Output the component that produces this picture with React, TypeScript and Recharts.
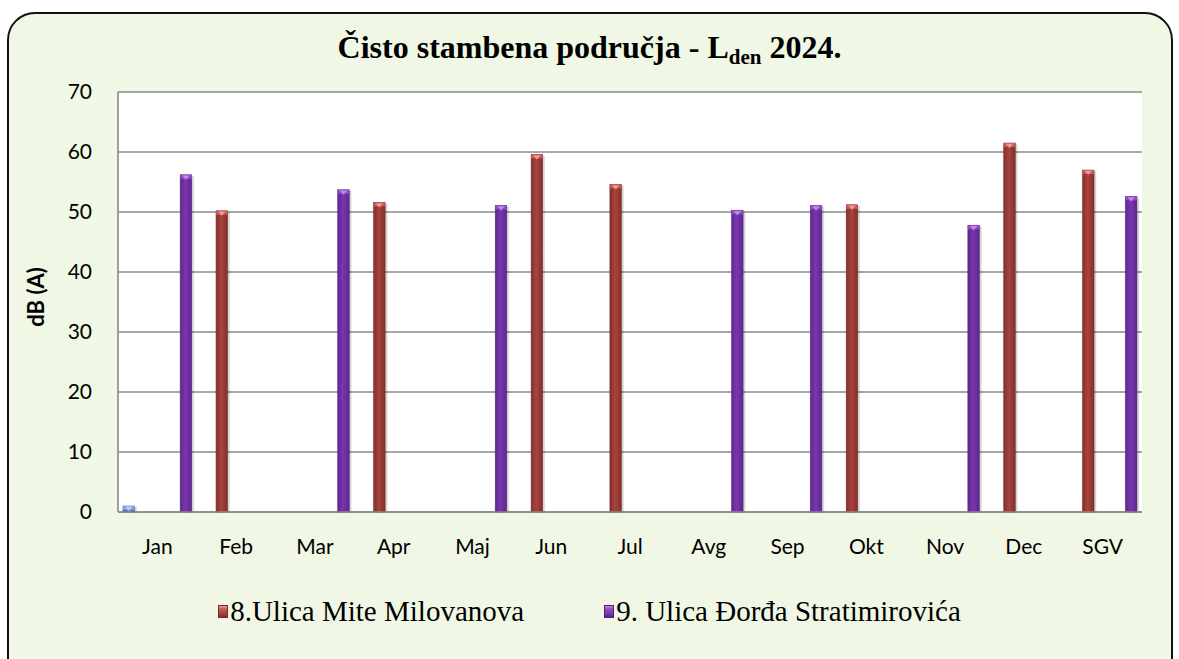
import { Bar, BarChart, CartesianGrid, Legend, XAxis, YAxis } from "recharts";

const months = ["Jan", "Feb", "Mar", "Apr", "Maj", "Jun", "Jul", "Avg", "Sep", "Okt", "Nov", "Dec", "SGV"];

// dB(A)
const serija1 = [1.0, null, null, null, null, null, null, null, null, null, null, null, null];
const miteMilovanova = [null, 50.2, null, 51.6, null, 59.6, 54.6, null, null, 51.2, null, 61.5, 57.0];
const praznoA = [null, null, null, null, null, null, null, null, null, null, null, null, null];
const praznoB = [null, null, null, null, null, null, null, null, null, null, null, null, null];
const djordjaStratimirovica = [56.2, null, 53.7, null, 51.1, null, null, 50.3, 51.1, null, 47.8, null, 52.6];

const yTicks = [0, 10, 20, 30, 40, 50, 60, 70];

const data = months.map((m, i) => ({
  month: m,
  s1: serija1[i],
  s8: miteMilovanova[i],
  sa: praznoA[i],
  sb: praznoB[i],
  s9: djordjaStratimirovica[i],
}));

const tones: Record<string, { edge: string; mid: string; dark: string; cap: string; tip: string }> = {
  red: { edge: "#7a2826", mid: "#a8443f", dark: "#83302d", cap: "#c65a55", tip: "#f09a93" },
  purple: { edge: "#4f1e78", mid: "#7a36ad", dark: "#5f2790", cap: "#8e4cc4", tip: "#c08ae8" },
  blue: { edge: "#2f4f98", mid: "#5b80d4", dark: "#3e60b0", cap: "#7f9fe6", tip: "#b8cbf3" },
};

function Bar3D(props: any) {
  const { x, y, width, height, tone } = props;
  if (!height || height <= 0) return null;
  const t = tones[tone];
  const capH = Math.min(4, height);
  return (
    <g>
      <rect x={x - 1} y={y + 1} width={width + 3.5} height={height - 1} fill="#000" opacity={0.07} />
      <rect x={x + 2} y={y + 1.5} width={width} height={height - 1.5} fill="#000" opacity={0.1} />
      <rect x={x} y={y} width={width} height={height} fill={`url(#body-${tone})`} stroke={t.edge} strokeWidth={0.5} />
      <rect x={x} y={y} width={width} height={capH} fill={t.cap} />
      <path d={`M${x + 2},${y + 0.8} L${x + width - 2},${y + 0.8} L${x + width / 2},${y + capH + 1} Z`} fill={t.tip} />
    </g>
  );
}

function LegendMarker({ tone }: { tone: string }) {
  const t = tones[tone];
  return (
    <span
      style={{
        display: "inline-block",
        width: 10,
        height: 13,
        marginRight: 2,
        background: `linear-gradient(to bottom, ${t.tip} 0%, ${t.cap} 30%, ${t.dark} 100%)`,
        border: `1px solid ${t.edge}`,
        boxSizing: "border-box",
      }}
    />
  );
}

function renderLegend(props: any) {
  const items = (props.payload || []).filter((p: any) => p.type !== "none");
  return (
    <div style={{ display: "flex", justifyContent: "center", alignItems: "center", gap: 80 }}>
      {items.map((p: any) => (
        <div key={p.value} style={{ display: "flex", alignItems: "center", fontFamily: "Liberation Serif", fontSize: 29, lineHeight: "34px", color: "#000" }}>
          <LegendMarker tone={p.color === "#7a36ad" ? "purple" : "red"} />
          <span>{p.value}</span>
        </div>
      ))}
    </div>
  );
}

export default function App() {
  return (
    <div style={{ position: "absolute", left: 0, top: 0, width: 1179, height: 659, overflow: "hidden", background: "#fff" }}>
      <div
        style={{
          position: "absolute",
          left: 7,
          top: 12,
          width: 1162,
          height: 680,
          border: "2px solid #111",
          borderRadius: 28,
          background: "#f0f7e4",
        }}
      />
      <div
        style={{
          position: "absolute",
          left: 0,
          width: 1179,
          top: 29,
          lineHeight: "36px",
          textAlign: "center",
          fontFamily: "Liberation Serif",
          fontWeight: "bold",
          fontSize: 32,
          color: "#000",
        }}
      >
        Čisto stambena područja - L<sub style={{ fontSize: 21, verticalAlign: "-6px", lineHeight: 0 }}>den</sub> 2024.
      </div>
      <div style={{ position: "absolute", left: 0, top: 0 }}>
        <BarChart
          width={1179}
          height={659}
          data={data}
          margin={{ top: 92, right: 37, bottom: 0, left: 0 }}
          barSize={11.5}
          barGap={2.8}
        >
          <defs>
            {Object.keys(tones).map((k) => (
              <linearGradient key={k} id={`body-${k}`} x1="0" y1="0" x2="1" y2="0">
                <stop offset="0%" stopColor={tones[k].dark} />
                <stop offset="45%" stopColor={tones[k].mid} />
                <stop offset="100%" stopColor={tones[k].dark} />
              </linearGradient>
            ))}
          </defs>
          <CartesianGrid vertical={false} stroke="#8a8a8a" strokeWidth={1.6} fill="#ffffff" />
          <XAxis
            dataKey="month"
            height={147}
            tickLine={false}
            tickSize={0}
            tickMargin={27}
            axisLine={{ stroke: "#8a8a8a", strokeWidth: 1.6 }}
            tick={{ fill: "#000", fontSize: 21, fontFamily: "Lato" }}
            interval={0}
          />
          <YAxis
            width={118}
            domain={[0, 70]}
            ticks={yTicks}
            tickLine={false}
            tickSize={0}
            tickMargin={26}
            axisLine={{ stroke: "#8a8a8a", strokeWidth: 1.6 }}
            tick={{ fill: "#000", fontSize: 21, fontFamily: "Lato" }}
            label={{
              content: () => (
                <text x={44} y={297} transform="rotate(-90 44 297)" textAnchor="middle" fontFamily="Lato" fontWeight="bold" fontSize={22} fill="#000">
                  dB (A)
                </text>
              ),
            }}
          />
          <Legend
            layout="horizontal"
            verticalAlign="middle"
            align="center"
            wrapperStyle={{ top: 594, left: 0, width: 1179 }}
            content={renderLegend}
          />
          <Bar dataKey="s1" name="Serija 1" fill="#5b80d4" legendType="none" isAnimationActive={false} shape={(p: any) => <Bar3D {...p} tone="blue" />} />
          <Bar dataKey="s8" name="8.Ulica Mite Milovanova" fill="#a8443f" isAnimationActive={false} shape={(p: any) => <Bar3D {...p} tone="red" />} />
          <Bar dataKey="sa" name="prazno A" fill="#ccc" legendType="none" isAnimationActive={false} />
          <Bar dataKey="sb" name="prazno B" fill="#ccc" legendType="none" isAnimationActive={false} />
          <Bar dataKey="s9" name="9. Ulica Đorđa Stratimirovića" fill="#7a36ad" isAnimationActive={false} shape={(p: any) => <Bar3D {...p} tone="purple" />} />
        </BarChart>
      </div>
    </div>
  );
}
